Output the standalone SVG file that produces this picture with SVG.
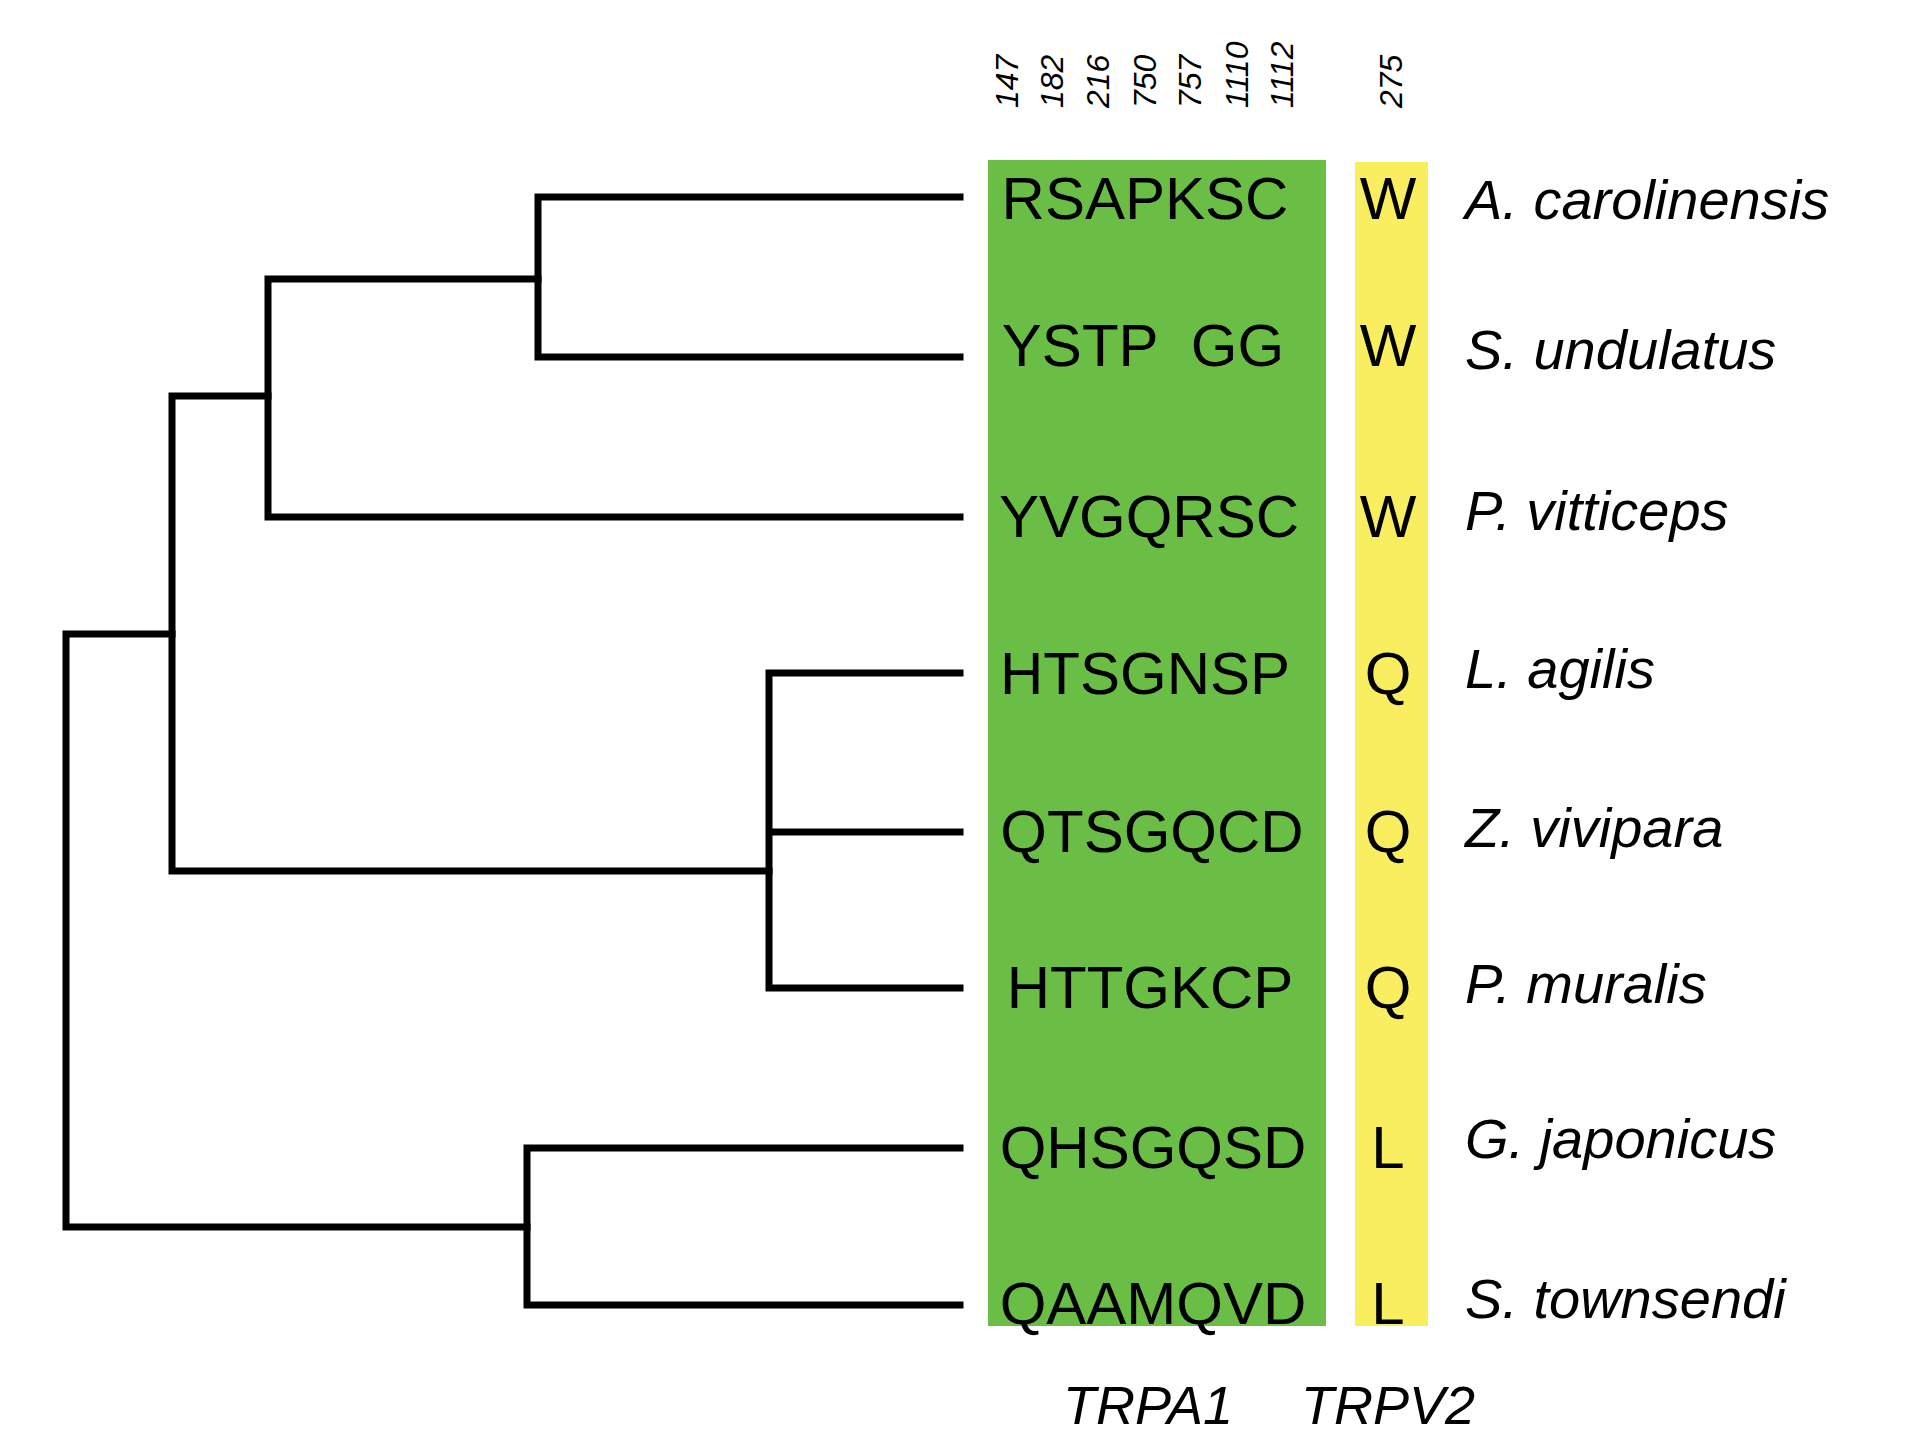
<svg xmlns="http://www.w3.org/2000/svg" width="1920" height="1448" viewBox="0 0 1920 1448">
<style>
.br{fill:none;stroke:#000;stroke-width:7;stroke-linecap:square}
.seq{font-family:"Liberation Sans",Arial,sans-serif;font-size:60px;text-anchor:middle}
.aa{font-family:"Liberation Sans",Arial,sans-serif;font-size:60px;text-anchor:middle}
.sp{font-family:"Liberation Sans",Arial,sans-serif;font-size:56px;font-style:italic}
.num{font-family:"Liberation Sans",Arial,sans-serif;font-size:32px;font-style:italic}
.gene{font-family:"Liberation Sans",Arial,sans-serif;font-size:54px;font-style:italic;text-anchor:middle}
</style>
<rect width="1920" height="1448" fill="#fff"/>
<g id="connectors">
<path class="br" d="M960 197H538V357H960"/>
<path class="br" d="M538 279H268V517H960"/>
<path class="br" d="M268 396H172V871H769"/>
<path class="br" d="M960 673H769V988H960M769 832H960"/>
<path class="br" d="M172 634H66V1227H527"/>
<path class="br" d="M960 1148H527V1305H960"/>
</g>
<g id="trpa1-box"><rect x="988" y="160" width="338" height="1166" fill="#6abd45"/></g>
<g id="trpv2-box"><rect x="1355" y="162" width="73" height="1164" fill="#f9ee5f"/></g>
<g id="positions" class="num">
<text transform="translate(1018,108) rotate(-90)">147</text>
<text transform="translate(1063,108) rotate(-90)">182</text>
<text transform="translate(1109,108) rotate(-90)">216</text>
<text transform="translate(1156,108) rotate(-90)">750</text>
<text transform="translate(1201,108) rotate(-90)">757</text>
<text transform="translate(1248,108) rotate(-90)">1110</text>
<text transform="translate(1293,108) rotate(-90)">1112</text>
<text transform="translate(1402,108) rotate(-90)">275</text>
</g>
<g id="row1"><text class="seq" x="1145" y="219">RSAPKSC</text><text class="aa" x="1388" y="219">W</text><text class="sp" x="1465" y="219">A.  carolinensis</text></g>
<g id="row2"><text class="seq" x="1143" y="366" xml:space="preserve">YSTP  GG</text><text class="aa" x="1388" y="366">W</text><text class="sp" x="1465" y="369">S. undulatus</text></g>
<g id="row3"><text class="seq" x="1149" y="537">YVGQRSC</text><text class="aa" x="1388" y="537">W</text><text class="sp" x="1465" y="530">P. vitticeps</text></g>
<g id="row4"><text class="seq" x="1145" y="694">HTSGNSP</text><text class="aa" x="1388" y="694">Q</text><text class="sp" x="1465" y="688">L. agilis</text></g>
<g id="row5"><text class="seq" x="1152" y="852">QTSGQCD</text><text class="aa" x="1388" y="852">Q</text><text class="sp" x="1465" y="847">Z. vivipara</text></g>
<g id="row6"><text class="seq" x="1150" y="1008">HTTGKCP</text><text class="aa" x="1388" y="1008">Q</text><text class="sp" x="1465" y="1003">P. muralis</text></g>
<g id="row7"><text class="seq" x="1153" y="1168">QHSGQSD</text><text class="aa" x="1388" y="1168">L</text><text class="sp" x="1465" y="1158">G. japonicus</text></g>
<g id="row8"><text class="seq" x="1153" y="1324">QAAMQVD</text><text class="aa" x="1388" y="1324">L</text><text class="sp" x="1465" y="1318">S. townsendi</text></g>
<g id="labels"><text class="gene" x="1148" y="1424">TRPA1</text><text class="gene" x="1388" y="1424">TRPV2</text></g>
</svg>
